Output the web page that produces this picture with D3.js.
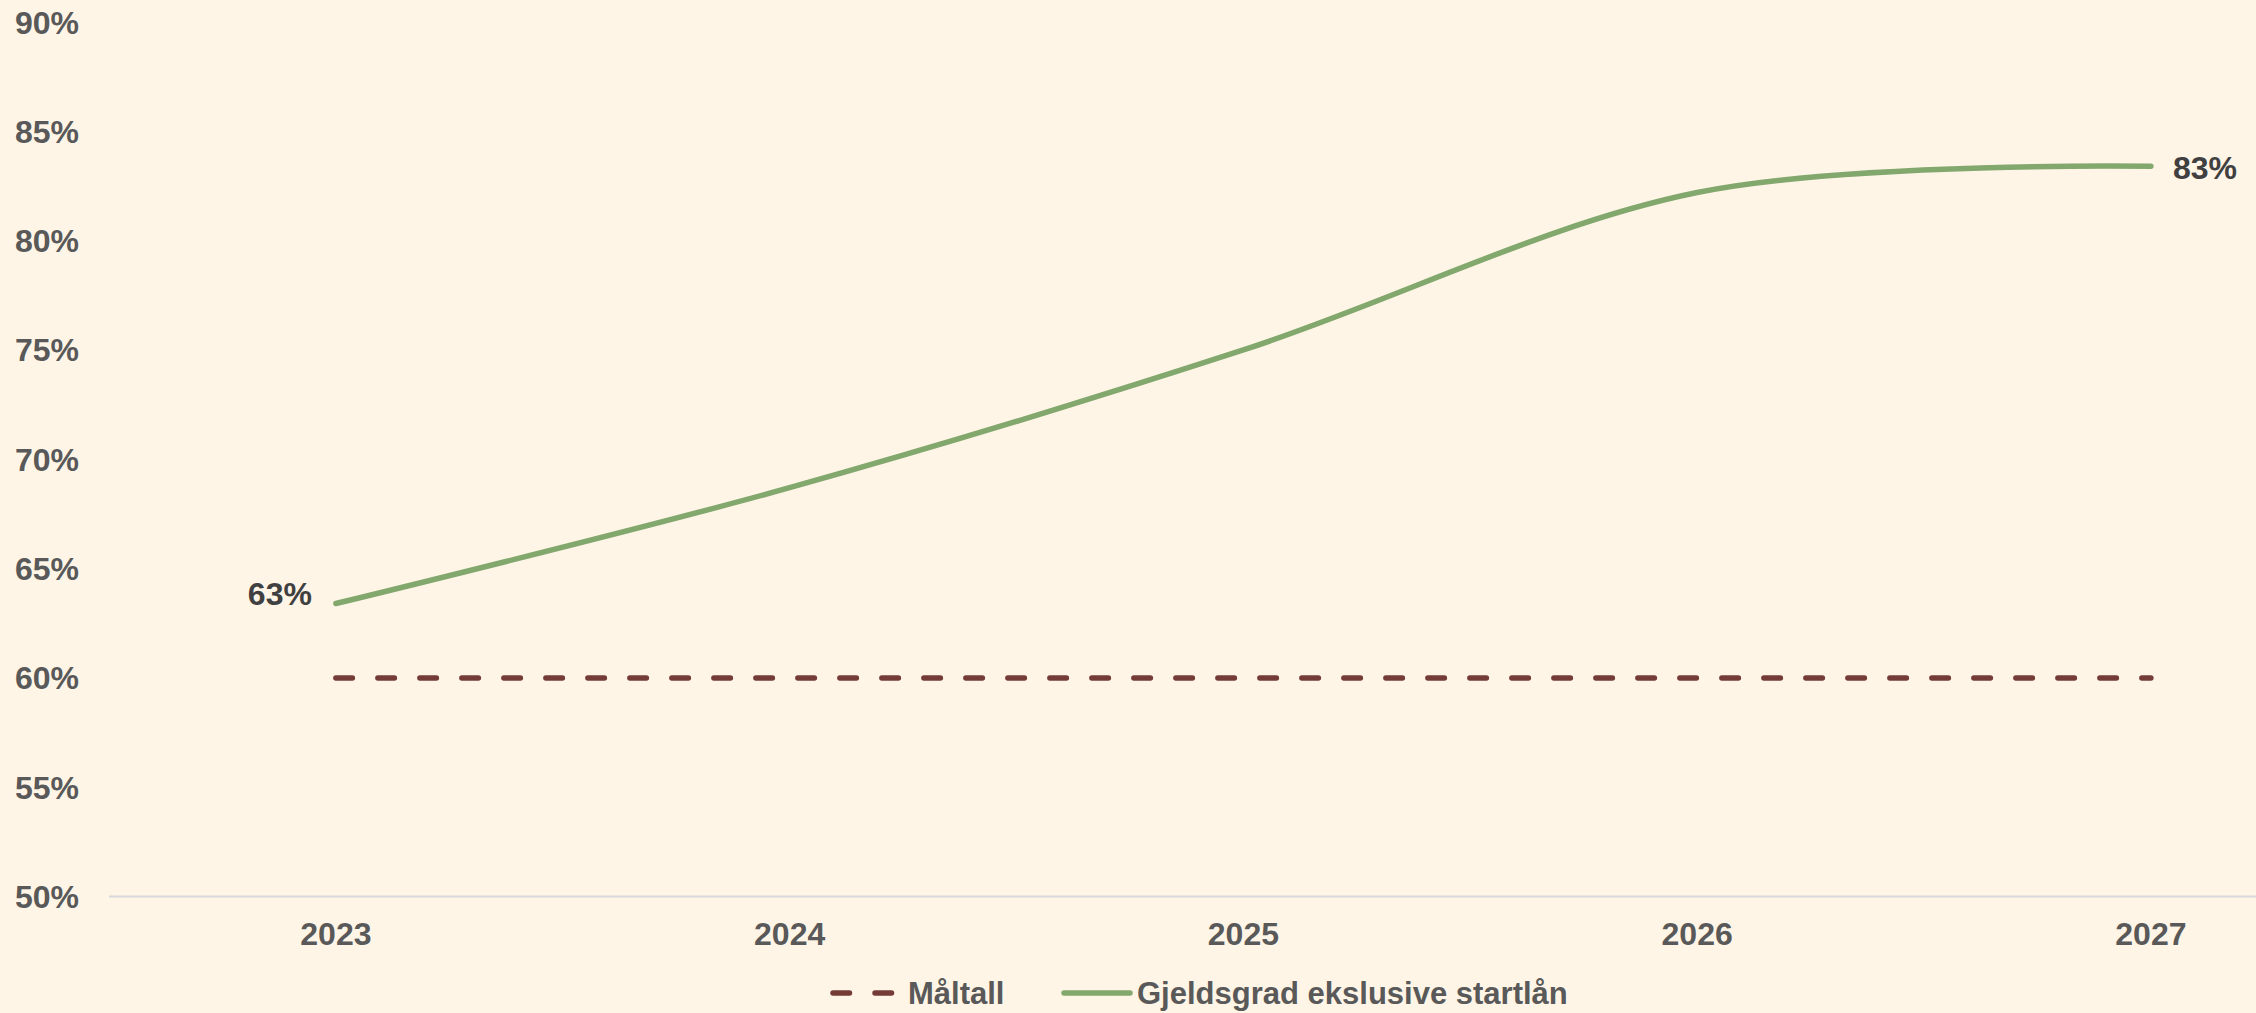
<!DOCTYPE html>
<html>
<head>
<meta charset="utf-8">
<script src="https://cdn.jsdelivr.net/npm/d3@7"></script>
<style>
    body { margin: 0; background: #fff5e6; }
    svg { display: block; font-family: "Liberation Sans", Arial, sans-serif; font-weight: bold; }
    .tick-label { fill: #595959; font-size: 32px; }
    .data-label { fill: #404040; font-size: 32px; }
    .legend-label { fill: #595959; font-size: 31px; }
</style>
</head>
<body>
<script>
(function(){

    //chart data
    var years = [2023, 2024, 2025, 2026, 2027];
    var gjeldsgrad = [63.4, 68.7, 75.0, 82.2, 83.4];
    var maltall = [60, 60, 60, 60, 60];
    var yTicks = [50, 55, 60, 65, 70, 75, 80, 85, 90];
    var seriesNames = ["Måltall", "Gjeldsgrad ekslusive startlån"];

    var width = 2256,
        height = 1013,
        plotLeft = 109,
        bandWidth = 453.75;

    var colors = {
        maltall: "#743b37",
        gjeld: "#82a86e",
        axis: "#d8d8dc"
    };

    var svg = d3.select("body")
        .append("svg")
        .attr("width", width)
        .attr("height", height);

    svg.append("rect")
        .attr("width", width)
        .attr("height", height)
        .attr("fill", "#fff5e6");

    //category scale, excel style (points sit between tick marks)
    var xBand = d3.scaleBand()
        .domain(years)
        .range([plotLeft, plotLeft + bandWidth * years.length])
        .padding(0);
    var x = function(d){ return xBand(d) + xBand.bandwidth() / 2; };

    var y = d3.scaleLinear()
        .domain([50, 90])
        .range([896.5, 22]);

    //y tick labels
    svg.selectAll(".ylab")
        .data(yTicks)
        .enter()
        .append("text")
        .attr("class", "tick-label")
        .attr("x", 79)
        .attr("y", function(d){ return y(d); })
        .attr("dy", "0.36em")
        .attr("text-anchor", "end")
        .text(function(d){ return d + "%"; });

    //category axis line
    svg.append("line")
        .attr("x1", plotLeft)
        .attr("x2", width)
        .attr("y1", y(50))
        .attr("y2", y(50))
        .attr("stroke", colors.axis)
        .attr("stroke-width", 2);

    //x tick labels
    svg.selectAll(".xlab")
        .data(years)
        .enter()
        .append("text")
        .attr("class", "tick-label")
        .attr("x", x)
        .attr("y", 933)
        .attr("dy", "0.36em")
        .attr("text-anchor", "middle")
        .text(function(d){ return d; });

    //target line (dashed)
    var straight = d3.line()
        .x(function(d, i){ return x(years[i]); })
        .y(function(d){ return y(d); });

    svg.append("path")
        .datum(maltall)
        .attr("d", straight)
        .attr("fill", "none")
        .attr("stroke", colors.maltall)
        .attr("stroke-width", 5.5)
        .attr("stroke-linecap", "round")
        .attr("stroke-dasharray", "16.5,25.5");

    //smoothed debt ratio line
    var smooth = d3.line()
        .x(function(d, i){ return x(years[i]); })
        .y(function(d){ return y(d); })
        .curve(d3.curveCardinal.tension(0));

    svg.append("path")
        .datum(gjeldsgrad)
        .attr("d", smooth)
        .attr("fill", "none")
        .attr("stroke", colors.gjeld)
        .attr("stroke-width", 5.5)
        .attr("stroke-linecap", "round");

    //data labels at the ends
    var last = gjeldsgrad.length - 1;
    svg.append("text")
        .attr("class", "data-label")
        .attr("x", x(years[0]) - 24)
        .attr("y", y(gjeldsgrad[0]) - 10)
        .attr("dy", "0.36em")
        .attr("text-anchor", "end")
        .text(Math.round(gjeldsgrad[0]) + "%");

    svg.append("text")
        .attr("class", "data-label")
        .attr("x", x(years[last]) + 22)
        .attr("y", y(gjeldsgrad[last]) + 1)
        .attr("dy", "0.36em")
        .attr("text-anchor", "start")
        .text(Math.round(gjeldsgrad[last]) + "%");

    //legend
    var legend = svg.append("g")
        .attr("transform", "translate(0,993)");

    legend.append("line")
        .attr("x1", 833).attr("x2", 892)
        .attr("y1", 0).attr("y2", 0)
        .attr("stroke", colors.maltall)
        .attr("stroke-width", 5.5)
        .attr("stroke-linecap", "round")
        .attr("stroke-dasharray", "16.5,25.5");

    legend.append("text")
        .attr("class", "legend-label")
        .attr("x", 908)
        .attr("dy", "0.36em")
        .text(seriesNames[0]);

    legend.append("line")
        .attr("x1", 1064).attr("x2", 1130)
        .attr("y1", 0).attr("y2", 0)
        .attr("stroke", colors.gjeld)
        .attr("stroke-width", 5.5)
        .attr("stroke-linecap", "round");

    legend.append("text")
        .attr("class", "legend-label")
        .attr("x", 1137)
        .attr("dy", "0.36em")
        .text(seriesNames[1]);

})();
</script>
</body>
</html>
